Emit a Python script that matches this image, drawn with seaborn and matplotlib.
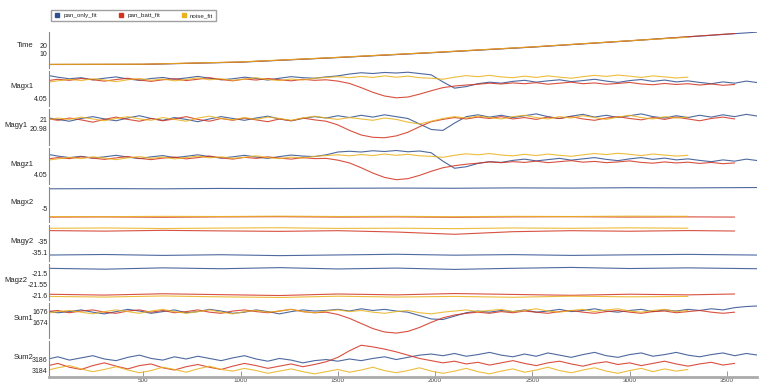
import numpy as np
import pandas as pd
import matplotlib
matplotlib.use('Agg')
import matplotlib.pyplot as plt
from matplotlib.lines import Line2D
import seaborn as sns

sns.set_style('white')
plt.rcParams['font.family'] = ['Liberation Sans', 'DejaVu Sans']

series_names = ['pan_only_fit', 'pan_batt_fit', 'noise_fit']
series_colors = ['#2f4f8f', '#d2321f', '#e9b21c']

# sample positions of the noisy panels (batt fit stops at 3540, noise fit at 3300)
x_fine = np.arange(0, 3661, 60)
# sample positions of the nearly flat panels
x_coarse_only = [0, 300, 600, 900, 1200, 1500, 1800, 2100, 2400, 2700, 3000, 3300, 3660]
x_coarse_batt = [0, 300, 600, 900, 1200, 1500, 1800, 2100, 2400, 2700, 3000, 3300, 3540]
x_coarse_noise = [0, 300, 600, 900, 1200, 1500, 1800, 2100, 2400, 2700, 3000, 3300]
# sample positions of the time panel
x_time_only = [0, 500, 1000, 1500, 2000, 2500, 3000, 3660]
x_time_batt = [0, 500, 1000, 1500, 2000, 2500, 3000, 3540]
x_time_noise = [0, 500, 1000, 1500, 2000, 2500, 3000, 3300]

time_only = [-3.3, -3.1, -0.5, 5.0, 11.0, 17.5, 25.0, 35.5]
time_batt = [-3.2, -3.0, -0.3, 5.2, 11.2, 17.7, 25.1, 33.8]
time_noise = [-3.1, -2.9, -0.2, 5.3, 11.3, 17.8, 25.2, 29.3]

magx1_only = [4.0588, 4.0580, 4.0574, 4.0578, 4.0570, 4.0576, 4.0581, 4.0573, 4.0568, 4.0575,
              4.0579, 4.0572, 4.0577, 4.0583, 4.0576, 4.0570, 4.0574, 4.0580, 4.0575, 4.0569,
              4.0576, 4.0582, 4.0578, 4.0576, 4.0581, 4.0585, 4.0592, 4.0597, 4.0594, 4.0598,
              4.0596, 4.0599, 4.0594, 4.0589, 4.0562, 4.0538, 4.0544, 4.0555, 4.0561, 4.0557,
              4.0564, 4.0568, 4.0561, 4.0566, 4.0570, 4.0563, 4.0567, 4.0572, 4.0565, 4.0560,
              4.0567, 4.0571, 4.0564, 4.0569, 4.0562, 4.0566, 4.0560, 4.0555, 4.0562, 4.0557,
              4.0565, 4.0559]
magx1_batt = [4.0566, 4.0572, 4.0568, 4.0575, 4.0570, 4.0565, 4.0571, 4.0576, 4.0569, 4.0564,
              4.0570, 4.0574, 4.0567, 4.0572, 4.0578, 4.0571, 4.0566, 4.0573, 4.0569, 4.0575,
              4.0570, 4.0566, 4.0572, 4.0568, 4.0570, 4.0565, 4.0556, 4.0540, 4.0522, 4.0508,
              4.0501, 4.0504, 4.0515, 4.0528, 4.0540, 4.0546, 4.0550, 4.0553, 4.0557, 4.0554,
              4.0558, 4.0555, 4.0559, 4.0553, 4.0557, 4.0561, 4.0555, 4.0558, 4.0553, 4.0556,
              4.0560, 4.0554, 4.0551, 4.0556, 4.0552, 4.0555, 4.0550, 4.0554, 4.0549, 4.0552]
magx1_noise = [4.0560, 4.0566, 4.0572, 4.0567, 4.0574, 4.0569, 4.0563, 4.0570, 4.0575, 4.0568,
               4.0573, 4.0566, 4.0571, 4.0577, 4.0570, 4.0574, 4.0568, 4.0572, 4.0578, 4.0571,
               4.0567, 4.0573, 4.0569, 4.0576, 4.0579, 4.0582, 4.0578, 4.0583, 4.0579, 4.0585,
               4.0580, 4.0584, 4.0578, 4.0576, 4.0572, 4.0580, 4.0586, 4.0582, 4.0587, 4.0581,
               4.0578, 4.0584, 4.0579, 4.0585, 4.0580, 4.0576, 4.0582, 4.0587, 4.0583, 4.0588,
               4.0584, 4.0579, 4.0585, 4.0581, 4.0577, 4.0580]

magy1_only = [21.004, 21.000, 20.996, 21.002, 21.006, 21.001, 20.997, 21.003, 21.008, 21.002,
              20.998, 21.004, 21.000, 20.995, 21.001, 21.006, 21.002, 20.998, 21.003, 21.007,
              21.001, 20.997, 21.002, 21.006, 21.003, 21.008, 21.004, 21.009, 21.005, 21.010,
              21.006, 21.002, 20.990, 20.978, 20.976, 20.992, 21.006, 21.010, 21.005, 21.009,
              21.004, 21.008, 21.012, 21.006, 21.002, 21.007, 21.011, 21.005, 21.009, 21.004,
              21.008, 21.012, 21.006, 21.003, 21.008, 21.004, 21.009, 21.005, 21.010, 21.006,
              21.011, 21.007]
magy1_batt = [21.002, 20.998, 21.003, 20.999, 20.994, 21.000, 21.005, 21.000, 20.996, 21.002,
              20.997, 21.001, 21.006, 21.000, 20.996, 21.002, 20.998, 21.003, 20.999, 20.995,
              21.001, 20.997, 21.003, 20.999, 20.996, 20.988, 20.976, 20.966, 20.961, 20.960,
              20.964, 20.972, 20.984, 20.995, 21.000, 21.004, 21.001, 21.005, 21.002, 21.006,
              21.001, 21.004, 21.000, 21.005, 21.002, 21.006, 21.001, 20.998, 21.003, 21.006,
              21.002, 20.999, 21.004, 21.000, 21.005, 21.001, 20.997, 21.002, 21.005, 21.001]
magy1_noise = [20.998, 21.003, 21.000, 21.005, 21.001, 20.997, 21.002, 21.006, 21.001, 20.998,
               21.004, 21.000, 20.996, 21.003, 21.007, 21.002, 20.999, 21.004, 21.000, 21.005,
               21.002, 20.998, 21.003, 21.007, 21.003, 21.000, 21.004, 21.001, 20.998, 21.003,
               21.000, 20.994, 20.990, 20.996, 21.002, 21.006, 21.003, 21.007, 21.004, 21.001,
               21.006, 21.009, 21.004, 21.001, 21.006, 21.003, 21.008, 21.004, 21.000, 21.005,
               21.009, 21.004, 21.001, 21.006, 21.003, 21.005]

magz1_only = [4.0580, 4.0572, 4.0566, 4.0571, 4.0564, 4.0569, 4.0575, 4.0568, 4.0562, 4.0569,
              4.0574, 4.0566, 4.0571, 4.0577, 4.0570, 4.0564, 4.0569, 4.0575, 4.0568, 4.0563,
              4.0570, 4.0576, 4.0572, 4.0570, 4.0577, 4.0588, 4.0591, 4.0588, 4.0593, 4.0590,
              4.0594, 4.0589, 4.0592, 4.0585, 4.0552, 4.0524, 4.0530, 4.0543, 4.0550, 4.0547,
              4.0555, 4.0560, 4.0553, 4.0558, 4.0563, 4.0556, 4.0561, 4.0566, 4.0559, 4.0554,
              4.0561, 4.0566, 4.0559, 4.0564, 4.0557, 4.0561, 4.0555, 4.0550, 4.0557, 4.0552,
              4.0560, 4.0554]
magz1_batt = [4.0560, 4.0566, 4.0562, 4.0569, 4.0564, 4.0559, 4.0565, 4.0570, 4.0563, 4.0558,
              4.0564, 4.0568, 4.0561, 4.0566, 4.0572, 4.0565, 4.0560, 4.0567, 4.0563, 4.0569,
              4.0564, 4.0560, 4.0566, 4.0562, 4.0563, 4.0556, 4.0545, 4.0526, 4.0505, 4.0488,
              4.0479, 4.0483, 4.0496, 4.0512, 4.0526, 4.0534, 4.0540, 4.0544, 4.0549, 4.0546,
              4.0550, 4.0547, 4.0552, 4.0546, 4.0550, 4.0554, 4.0548, 4.0551, 4.0546, 4.0549,
              4.0553, 4.0547, 4.0544, 4.0549, 4.0545, 4.0548, 4.0543, 4.0547, 4.0542, 4.0545]
magz1_noise = [4.0555, 4.0561, 4.0567, 4.0562, 4.0569, 4.0564, 4.0558, 4.0565, 4.0570, 4.0563,
               4.0568, 4.0561, 4.0566, 4.0572, 4.0565, 4.0569, 4.0563, 4.0567, 4.0573, 4.0566,
               4.0562, 4.0568, 4.0564, 4.0571, 4.0574, 4.0577, 4.0573, 4.0578, 4.0574, 4.0580,
               4.0575, 4.0579, 4.0573, 4.0571, 4.0567, 4.0575, 4.0581, 4.0577, 4.0582, 4.0576,
               4.0573, 4.0579, 4.0574, 4.0580, 4.0575, 4.0571, 4.0577, 4.0582, 4.0578, 4.0583,
               4.0579, 4.0574, 4.0580, 4.0576, 4.0572, 4.0575]

magx2_only = [-4.892, -4.891, -4.892, -4.890, -4.891, -4.889, -4.888, -4.889, -4.887, -4.888,
              -4.886, -4.887, -4.885]
magx2_batt = [-5.046, -5.045, -5.047, -5.045, -5.044, -5.046, -5.045, -5.047, -5.045, -5.044,
              -5.046, -5.045, -5.046]
magx2_noise = [-5.043, -5.044, -5.042, -5.043, -5.041, -5.043, -5.042, -5.044, -5.042, -5.043,
               -5.041, -5.042]

magy2_only = [-35.122, -35.117, -35.125, -35.119, -35.127, -35.121, -35.115, -35.123, -35.118,
              -35.125, -35.120, -35.116, -35.122]
magy2_batt = [-34.905, -34.910, -34.903, -34.908, -34.912, -34.906, -34.918, -34.938, -34.915,
              -34.906, -34.911, -34.905, -34.909]
magy2_noise = [-34.885, -34.882, -34.887, -34.883, -34.880, -34.886, -34.884, -34.888, -34.882,
               -34.885, -34.881, -34.884]

magz2_only = [-21.478, -21.482, -21.476, -21.480, -21.475, -21.481, -21.477, -21.483, -21.478,
              -21.474, -21.479, -21.476, -21.480]
magz2_batt = [-21.596, -21.600, -21.594, -21.598, -21.602, -21.595, -21.599, -21.593, -21.597,
              -21.601, -21.596, -21.599, -21.595]
magz2_noise = [-21.606, -21.609, -21.604, -21.608, -21.611, -21.605, -21.609, -21.606, -21.610,
               -21.605, -21.608, -21.606]

sum1_only = [1676.0, 1675.7, 1675.9, 1676.2, 1675.8, 1675.5, 1675.9, 1676.3, 1676.0, 1675.6,
             1675.9, 1676.2, 1675.7, 1675.9, 1676.3, 1676.0, 1675.6, 1675.8, 1676.2, 1675.9,
             1675.5, 1675.9, 1676.2, 1676.0, 1676.1, 1676.3, 1676.0, 1676.4, 1676.1, 1676.3,
             1676.0, 1675.8, 1675.2, 1674.6, 1674.5, 1675.1, 1675.7, 1676.0, 1675.8, 1676.1,
             1675.9, 1676.2, 1675.8, 1676.0, 1676.3, 1675.9, 1676.1, 1676.4, 1676.0, 1675.8,
             1676.1, 1676.3, 1675.9, 1676.2, 1676.0, 1676.3, 1676.1, 1676.4, 1676.2, 1676.6,
             1676.8, 1676.9]
sum1_batt = [1675.9, 1676.1, 1675.7, 1676.0, 1676.2, 1675.8, 1675.6, 1676.0, 1676.2, 1675.8,
             1676.1, 1675.7, 1675.9, 1676.2, 1675.8, 1675.6, 1676.0, 1676.2, 1675.9, 1675.7,
             1676.0, 1676.3, 1675.9, 1675.7, 1675.8, 1675.4, 1674.7, 1673.8, 1672.9, 1672.3,
             1672.1, 1672.4, 1673.1, 1674.0, 1674.8, 1675.3, 1675.6, 1675.8, 1675.6, 1675.9,
             1675.7, 1676.0, 1675.8, 1675.6, 1675.9, 1676.1, 1675.8, 1675.6, 1675.9, 1676.1,
             1675.8, 1675.6, 1675.9, 1676.0, 1675.7, 1675.9, 1676.1, 1675.8, 1675.6, 1675.8]
sum1_noise = [1675.6, 1675.9, 1676.1, 1675.8, 1675.5, 1675.9, 1676.2, 1675.9, 1675.6, 1676.0,
              1676.3, 1675.9, 1675.6, 1675.9, 1676.2, 1675.8, 1675.5, 1675.9, 1676.1, 1675.8,
              1676.0, 1676.3, 1675.9, 1675.7, 1676.0, 1676.2, 1675.9, 1676.1, 1675.8, 1675.6,
              1675.9, 1676.1, 1675.7, 1675.5, 1675.8, 1676.0, 1676.2, 1675.9, 1676.1, 1676.3,
              1675.9, 1676.1, 1676.4, 1676.0, 1675.8, 1676.1, 1676.3, 1675.9, 1676.2, 1676.4,
              1676.0, 1675.8, 1676.1, 1676.3, 1675.9, 1676.1]

sum2_only = [3186.0, 3186.5, 3185.9, 3186.3, 3186.7, 3186.1, 3185.8, 3186.4, 3186.8, 3186.2,
             3185.9, 3186.5, 3186.1, 3186.6, 3186.2, 3185.8, 3186.3, 3186.7, 3186.1, 3185.7,
             3186.2, 3185.9, 3185.4, 3185.8, 3186.0, 3185.7, 3186.1, 3185.8, 3186.2, 3186.5,
             3186.0, 3186.4, 3186.8, 3187.0, 3186.7, 3187.1, 3186.6, 3186.9, 3187.3, 3186.8,
             3186.5, 3187.0, 3186.6, 3187.2, 3186.8, 3186.4, 3186.9, 3187.3, 3186.7, 3186.4,
             3186.9, 3187.2, 3186.6, 3186.9, 3187.3, 3186.8, 3186.5, 3186.9, 3187.2, 3186.7,
             3187.1, 3186.8]
sum2_batt = [3184.8, 3185.3, 3184.6, 3184.2, 3184.9, 3185.4, 3184.8, 3184.3, 3184.9, 3185.2,
             3184.5, 3184.1, 3184.7, 3185.1, 3184.6, 3184.2, 3184.8, 3185.3, 3184.9, 3184.4,
             3184.8, 3185.2, 3184.7, 3185.1, 3185.6, 3186.4, 3187.6, 3188.6, 3188.3, 3187.9,
             3187.4, 3186.8, 3186.2, 3185.8, 3185.4, 3185.7, 3185.2, 3185.5, 3185.0, 3185.4,
             3185.8, 3185.3, 3184.9, 3185.4, 3185.7, 3185.2, 3184.8, 3185.3, 3185.6, 3185.1,
             3185.4, 3184.9, 3185.3, 3185.7, 3185.2, 3184.8, 3185.2, 3185.5, 3185.0, 3185.3]
sum2_noise = [3184.0, 3184.5, 3184.9, 3184.3, 3183.8, 3184.2, 3184.7, 3184.1, 3183.6, 3184.0,
              3184.6, 3184.2, 3183.7, 3184.3, 3184.8, 3184.2, 3183.9, 3184.4, 3184.0, 3183.5,
              3183.9, 3184.3, 3183.8, 3183.4, 3183.8, 3184.2, 3183.7, 3184.1, 3184.6, 3184.0,
              3183.6, 3184.0, 3184.5, 3183.9, 3183.5, 3183.9, 3184.4, 3183.8, 3183.4, 3183.9,
              3184.3, 3183.7, 3184.1, 3184.6, 3184.0, 3183.6, 3184.1, 3184.5, 3183.9, 3183.5,
              3184.0, 3184.4, 3183.8, 3184.3, 3183.9, 3184.2]

x_ticks = [500, 1000, 1500, 2000, 2500, 3000, 3500]

fine_x = [x_fine, x_fine, x_fine]
coarse_x = [x_coarse_only, x_coarse_batt, x_coarse_noise]
time_xs = [x_time_only, x_time_batt, x_time_noise]

# name, x arrays, y arrays, ylim, ticks, tick labels, label x offset
panels = [
    ('Time', time_xs, [time_only, time_batt, time_noise], (-7.2, 35.6), [10, 20, 30], ['10', '20', ''], -0.022),
    ('Magx1', fine_x, [magx1_only, magx1_batt, magx1_noise], (4.0468, 4.0605), [4.05, 4.06], ['4.05', ''], -0.022),
    ('Magy1', fine_x, [magy1_only, magy1_batt, magy1_noise], (20.944, 21.022), [20.96, 20.98, 21.0, 21.02], ['', '20.98', '21', ''], -0.03),
    ('Magz1', fine_x, [magz1_only, magz1_batt, magz1_noise], (4.0463, 4.0604), [4.05, 4.06], ['4.05', ''], -0.022),
    ('Magx2', coarse_x, [magx2_only, magx2_batt, magx2_noise], (-5.075, -4.88), [-5.0, -4.9], ['-5', ''], -0.022),
    ('Magy2', coarse_x, [magy2_only, magy2_batt, magy2_noise], (-35.175, -34.858), [-35.1, -35.0, -34.9], ['-35.1', '-35', ''], -0.022),
    ('Magz2', coarse_x, [magz2_only, magz2_batt, magz2_noise], (-21.621, -21.458), [-21.6, -21.55, -21.5], ['-21.6', '-21.55', '-21.5'], -0.03),
    ('Sum1', fine_x, [sum1_only, sum1_batt, sum1_noise], (1671.17, 1677.5), [1672, 1674, 1676], ['', '1674', '1676'], -0.022),
    ('Sum2', fine_x, [sum2_only, sum2_batt, sum2_noise], (3182.83, 3189.33), [3184, 3186, 3188], ['3184', '3186', ''], -0.022),
]

palette = dict(zip(series_names, series_colors))

fig = plt.figure(figsize=(7.63, 3.83), dpi=100)
axes = fig.subplots(len(panels), 1, sharex=True, gridspec_kw={'hspace': 0.08})
fig.subplots_adjust(left=49 / 763, right=757 / 763, top=1 - 32 / 383, bottom=1 - 377 / 383)

for ax, (name, xs, ys, ylim, ticks, labels, lx) in zip(axes, panels):
    df = pd.concat([pd.DataFrame({'x': np.asarray(xv)[:len(yv)], 'y': yv, 'fit': s})
                    for xv, yv, s in zip(xs, ys, series_names)], ignore_index=True)
    sns.lineplot(data=df, x='x', y='y', hue='fit', palette=palette, estimator=None,
                 sort=False, lw=0.8, alpha=0.85, legend=False, ax=ax)
    ax.set_ylim(*ylim)
    ax.set_yticks(ticks)
    ax.set_yticklabels(labels)
    ax.set_ylabel(name, rotation=0, ha='right', va='center', fontsize=5.5, color='#222222')
    ax.yaxis.set_label_coords(lx, 0.55)
    ax.set_xlabel('')
    ax.tick_params(axis='y', direction='in', length=4, width=0.6, color='#888888',
                   labelsize=5, pad=1, labelcolor='#222222')
    for side in ['top', 'right', 'bottom']:
        ax.spines[side].set_visible(False)
    ax.spines['left'].set_color('#888888')
    ax.spines['left'].set_linewidth(0.8)
    ax.tick_params(axis='x', bottom=False, labelbottom=False)

axes[0].yaxis.set_label_coords(-0.022, 0.62)

bottom = axes[-1]
bottom.spines['bottom'].set_visible(True)
bottom.spines['bottom'].set_color('#aaaaaa')
bottom.spines['bottom'].set_linewidth(2)
bottom.set_xlim(15, 3655)
bottom.set_xticks(x_ticks)
bottom.tick_params(axis='x', bottom=True, labelbottom=True, direction='in', length=4,
                   width=0.6, color='#888888', labelsize=4.5, pad=0.5, labelcolor='#444444')

handles = [Line2D([], [], marker='s', ls='', color=c, markersize=2.5, label=n)
           for n, c in zip(series_names, series_colors)]
fig.legend(handles=handles, loc='upper left', bbox_to_anchor=(48 / 763, 1 - 7 / 383),
           ncol=3, fontsize=4.5, frameon=True, fancybox=False, edgecolor='#888888',
           handletextpad=0.4, columnspacing=3.2, borderpad=0.4, handlelength=1.2)

fig.savefig('out.png', dpi=100)
